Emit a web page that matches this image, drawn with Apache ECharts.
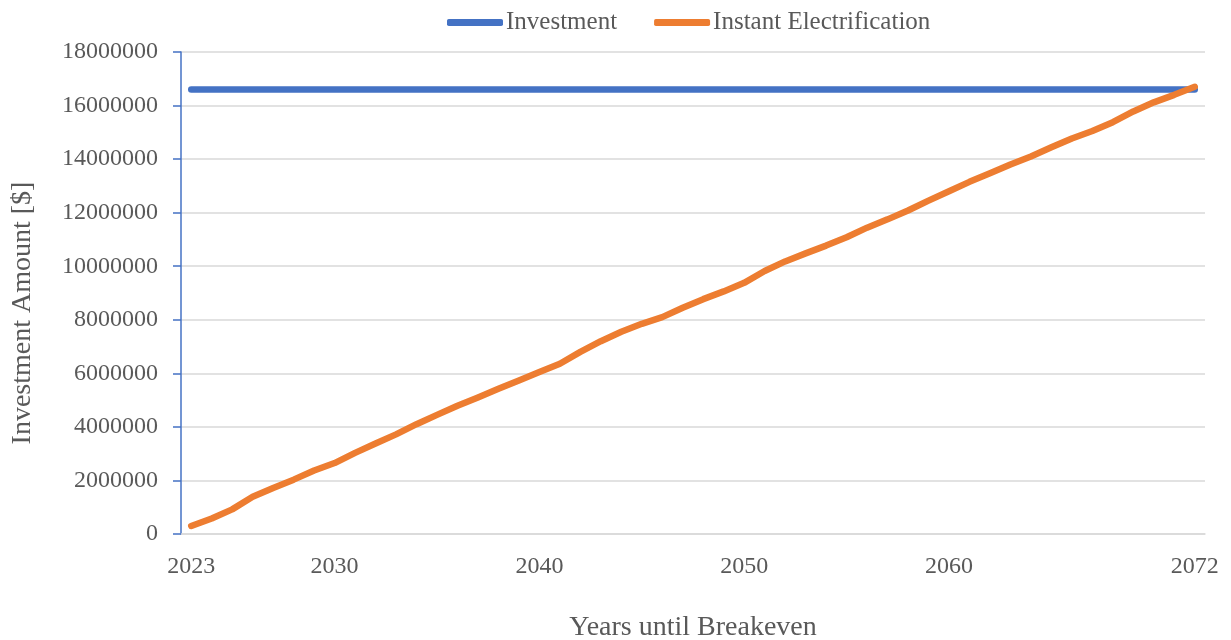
<!DOCTYPE html>
<html>
<head>
<meta charset="utf-8">
<script src="https://cdn.jsdelivr.net/npm/echarts@6/dist/echarts.min.js"></script>
<style>
  html, body { margin: 0; padding: 0; background: #ffffff; }
  #chart { width: 1231px; height: 640px; }
</style>
</head>
<body>
<div id="chart"></div>
<script>
// ---- data ----
const years = [];
for (let y = 2023; y <= 2072; y++) years.push(String(y));
const shownYearLabels = ['2023', '2030', '2040', '2050', '2060', '2072'];

const investment = [
  16600000,16600000,16600000,16600000,16600000,16600000,16600000,16600000,16600000,16600000,
  16600000,16600000,16600000,16600000,16600000,16600000,16600000,16600000,16600000,16600000,
  16600000,16600000,16600000,16600000,16600000,16600000,16600000,16600000,16600000,16600000,
  16600000,16600000,16600000,16600000,16600000,16600000,16600000,16600000,16600000,16600000,
  16600000,16600000,16600000,16600000,16600000,16600000,16600000,16600000,16600000,16600000
];

const instantElectrification = [
  300000, 580000, 920000, 1390000, 1720000, 2030000, 2370000, 2650000, 3030000, 3380000,
  3720000, 4100000, 4450000, 4790000, 5100000, 5420000, 5730000, 6050000, 6360000, 6800000,
  7200000, 7550000, 7850000, 8100000, 8450000, 8770000, 9060000, 9380000, 9820000, 10180000,
  10480000, 10770000, 11080000, 11440000, 11750000, 12080000, 12450000, 12800000, 13150000, 13470000,
  13800000, 14100000, 14440000, 14770000, 15050000, 15380000, 15780000, 16120000, 16400000, 16700000
];

const yMin = 0, yMax = 18000000, yInterval = 2000000;

// ---- chart ----
const FONT = '"Liberation Serif", "DejaVu Serif", serif';
const TXT = '#595959';
const chart = echarts.init(document.getElementById('chart'));
chart.setOption({
  animation: false,
  backgroundColor: '#ffffff',
  textStyle: { fontFamily: FONT },
  legend: {
    top: 5,
    left: 442,
    icon: 'roundRect',
    itemWidth: 56,
    itemHeight: 7,
    itemGap: 37,
    textStyle: { fontFamily: FONT, fontSize: 25, color: TXT, padding: [0, 0, 0, -2] },
    data: ['Investment', 'Instant Electrification']
  },
  grid: { left: 181, right: 26, top: 52, bottom: 106, containLabel: false, outerBoundsMode: 'none' },
  xAxis: {
    type: 'category',
    data: years,
    boundaryGap: true,
    name: 'Years until Breakeven',
    nameLocation: 'middle',
    nameGap: 80,
    nameTextStyle: { fontFamily: FONT, fontSize: 28, color: TXT },
    axisLine: { show: true, lineStyle: { color: '#d9d9d9', width: 1.5 } },
    axisTick: { show: false },
    axisLabel: {
      interval: (idx, val) => shownYearLabels.indexOf(val) >= 0,
      fontFamily: FONT, fontSize: 24, color: TXT, margin: 21
    },
    splitLine: { show: false }
  },
  yAxis: {
    type: 'value',
    min: yMin, max: yMax, interval: yInterval,
    name: 'Investment Amount [$]',
    nameLocation: 'middle',
    nameRotate: 90,
    nameGap: 144,
    nameTextStyle: { fontFamily: FONT, fontSize: 28, color: TXT, padding: [0, 40, 0, 0] },
    axisLine: { show: true, lineStyle: { color: '#4472C4', width: 1.5 } },
    axisTick: { show: true, length: 8, lineStyle: { color: '#4472C4', width: 1.5 } },
    axisLabel: {
      fontFamily: FONT, fontSize: 24, color: TXT, margin: 23,
      formatter: v => String(v)
    },
    splitLine: { show: true, lineStyle: { color: '#d9d9d9', width: 1.5 } }
  },
  series: [
    {
      name: 'Investment',
      type: 'line',
      data: investment,
      showSymbol: false,
      symbol: 'none',
      color: '#4472C4',
      lineStyle: { color: '#4472C4', width: 6.5, cap: 'round' }
    },
    {
      name: 'Instant Electrification',
      type: 'line',
      data: instantElectrification,
      showSymbol: false,
      symbol: 'none',
      color: '#ED7D31',
      lineStyle: { color: '#ED7D31', width: 6.5, cap: 'round', join: 'round' }
    }
  ]
});
</script>
</body>
</html>
